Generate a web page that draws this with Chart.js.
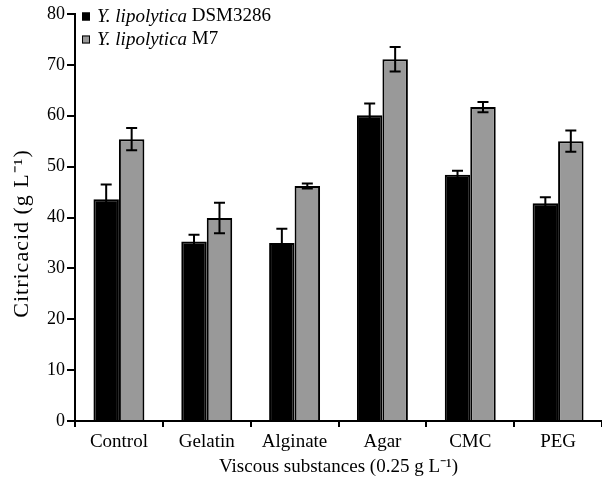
<!DOCTYPE html>
<html>
<head>
<meta charset="utf-8">
<script src="https://cdn.jsdelivr.net/npm/chart.js@4/dist/chart.umd.min.js"></script>
<style>
  body { margin: 0; background: #fff; }
  #wrap { width: 602px; height: 487px; }
</style>
</head>
<body>
<div id="wrap"><canvas id="myChart" width="602" height="487"></canvas></div>
<script>
// data
const categories = ["Control", "Gelatin", "Alginate", "Agar", "CMC", "PEG"];
const dsmValues = [43.6, 35.3, 35.0, 60.1, 48.4, 42.8];
const dsmErrors = [2.9, 1.3, 2.8, 2.3, 0.8, 1.2];
const m7Values = [55.4, 39.9, 46.2, 71.1, 61.7, 55.0];
const m7Errors = [2.2, 3.0, 0.5, 2.4, 1.0, 2.1];
const seriesSpecies = ["Y. lipolytica", "Y. lipolytica"];
const seriesStrains = ["DSM3286", "M7"];
const yTicks = [0, 10, 20, 30, 40, 50, 60, 70, 80];
const yTitle = "Citricacid (g L\u207B\u00B9)";
const xTitle = "Viscous substances (0.25 g L\u207B\u00B9)";

const serif = "'Liberation Serif', 'Times New Roman', serif";

// error bars: drawn from each bar's x and the y scale
const errorBars = {
  id: "errorBars",
  afterDatasetsDraw(chart) {
    const ctx = chart.ctx;
    const yScale = chart.scales.y;
    ctx.save();
    ctx.strokeStyle = "#000";
    ctx.lineWidth = 2;
    chart.data.datasets.forEach((ds, i) => {
      const meta = chart.getDatasetMeta(i);
      meta.data.forEach((bar, j) => {
        const v = ds.data[j];
        const e = ds.errors[j];
        const yTop = yScale.getPixelForValue(v + e);
        const yBot = yScale.getPixelForValue(v - e);
        const cap = 5.5;
        ctx.beginPath();
        ctx.moveTo(bar.x, yTop);
        ctx.lineTo(bar.x, yBot);
        ctx.moveTo(bar.x - cap, yTop);
        ctx.lineTo(bar.x + cap, yTop);
        ctx.moveTo(bar.x - cap, yBot);
        ctx.lineTo(bar.x + cap, yBot);
        ctx.stroke();
      });
    });
    ctx.restore();
  },
};

// legend with italic species name + y title
const textBits = {
  id: "textBits",
  afterDraw(chart) {
    const ctx = chart.ctx;
    const area = chart.chartArea;
    ctx.save();
    ctx.textBaseline = "middle";
    chart.data.datasets.forEach((ds, i) => {
      const y = area.top + 2.5 + i * 23;
      const x = area.left + 7;
      ctx.fillStyle = ds.backgroundColor;
      ctx.fillRect(x, y - 4, 8, 8);
      ctx.strokeStyle = "#000";
      ctx.lineWidth = 1;
      ctx.strokeRect(x + 0.5, y - 3.5, 7, 7);
      ctx.fillStyle = "#000";
      ctx.font = "italic 19px " + serif;
      const sp = seriesSpecies[i] + " ";
      ctx.fillText(sp, x + 15, y);
      const w = ctx.measureText(sp).width;
      ctx.font = "19px " + serif;
      ctx.fillText(seriesStrains[i], x + 15 + w, y);
    });

    // y axis title
    ctx.translate(22, (area.top + area.bottom) / 2 + 16);
    ctx.rotate(-Math.PI / 2);
    ctx.textAlign = "center";
    ctx.font = "22px " + serif;
    ctx.letterSpacing = "1px";
    ctx.fillStyle = "#000";
    ctx.fillText(yTitle, 0, 0);
    ctx.restore();
  },
};

const config = {
  type: "bar",
  data: {
    labels: categories,
    datasets: [
      {
        label: seriesSpecies[0] + " " + seriesStrains[0],
        data: dsmValues,
        errors: dsmErrors,
        backgroundColor: "#000000",
        borderColor: "#000000",
        borderWidth: 2,
      },
      {
        label: seriesSpecies[1] + " " + seriesStrains[1],
        data: m7Values,
        errors: m7Errors,
        backgroundColor: "#999999",
        borderColor: "#000000",
        borderWidth: 2,
      },
    ],
  },
  options: {
    responsive: false,
    animation: false,
    categoryPercentage: 0.58,
    barPercentage: 1.0,
    layout: {
      padding: { top: 14, right: -8, bottom: 0, left: 0 },
    },
    scales: {
      x: {
        grid: {
          drawOnChartArea: false,
          color: "#000",
          lineWidth: 2,
          tickLength: 6,
        },
        border: { color: "#000", width: 2 },
        ticks: {
          color: "#000",
          font: { family: serif, size: 19 },
          padding: 4,
          maxRotation: 0,
        },
        title: {
          display: true,
          text: xTitle,
          color: "#000",
          font: { family: serif, size: 19 },
          padding: { top: 0, bottom: 9 },
        },
        afterFit(scale) {
          scale.height = 66;
        },
      },
      y: {
        min: 0,
        max: 80,
        afterBuildTicks(scale) {
          scale.ticks = yTicks.map((v) => ({ value: v }));
        },
        grid: {
          drawOnChartArea: false,
          color: "#000",
          lineWidth: 2,
          tickLength: 8,
        },
        border: { color: "#000", width: 2 },
        ticks: {
          color: "#000",
          font: { family: serif, size: 18 },
          padding: 2,
        },
        afterFit(scale) {
          scale.width = 75;
        },
      },
    },
    plugins: {
      legend: { display: false },
      tooltip: { enabled: false },
    },
  },
  plugins: [errorBars, textBits],
};

const ctx = document.getElementById("myChart").getContext("2d");
new Chart(ctx, config);
</script>
</body>
</html>
